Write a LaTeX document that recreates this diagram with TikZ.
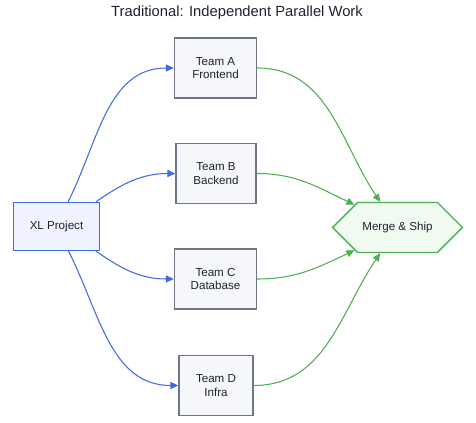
\documentclass[tikz,border=0pt]{standalone}
\usepackage{fontspec}
\setmainfont{Liberation Sans}
\usetikzlibrary{arrows.meta,shapes.symbols}
\definecolor{ink}{HTML}{1E2230}
\definecolor{flowblue}{HTML}{4169E1}
\definecolor{projfill}{HTML}{EEF3FD}
\definecolor{teamgray}{HTML}{6E7585}
\definecolor{teamfill}{HTML}{F6F7FA}
\definecolor{flowgreen}{HTML}{4CAF50}
\definecolor{shipfill}{HTML}{F0FAF0}
\begin{document}
\begin{tikzpicture}[x=0.02cm,y=0.02cm,
  label/.style={font=\fontsize{6.6}{7.6}\selectfont,text=ink,align=center},
  team/.style={label,draw=teamgray,fill=teamfill,line width=0.8pt,minimum width=1.64cm,minimum height=1.2cm},
  proj/.style={label,draw=flowblue,fill=projfill,line width=0.8pt,minimum width=1.72cm,minimum height=0.96cm},
  ship/.style={label,draw=flowgreen,fill=shipfill,line width=0.8pt,signal,signal to=east and west,signal pointer angle=90,minimum width=2.6cm,minimum height=1.0cm,inner xsep=2pt},
  bluearrow/.style={draw=flowblue,line width=0.6pt,-{Triangle[length=4.5pt,width=4pt]}},
  greenarrow/.style={draw=flowgreen,line width=0.6pt,-{Triangle[length=4.5pt,width=4pt]}}]
\useasboundingbox (0,0) rectangle (476,422);
\node[font=\fontsize{8.4}{10}\selectfont,text=ink] (title) at (237,409) {Traditional: Independent Parallel Work};
\node[proj] (xl) at (56.5,195.5) {XL Project};
\node[team] (ta) at (215.5,354) {Team A\\Frontend};
\node[team,minimum width=1.6cm] (tb) at (216,248.5) {Team B\\Backend};
\node[team] (tc) at (215.5,143) {Team C\\Database};
\node[team,minimum width=1.48cm] (td) at (216,36.5) {Team D\\Infra};
\node[ship] (merge) at (397.5,194.5) {Merge \& Ship};
\draw[bluearrow] (xl.65) to[out=63,in=180] (ta.west);
\draw[bluearrow] (xl.32) to[out=35,in=180] (tb.west);
\draw[bluearrow] (xl.-32) to[out=-35,in=180] (tc.west);
\draw[bluearrow] (xl.-64) to[out=-63,in=180] (td.west);
\draw[greenarrow] (ta.east) to[out=0,in=124] (merge.124);
\draw[greenarrow] (tb.east) to[out=0,in=155] (merge.152);
\draw[greenarrow] (tc.east) to[out=0,in=205] (merge.208);
\draw[greenarrow] (td.east) to[out=0,in=236] (merge.236);
\end{tikzpicture}
\end{document}
